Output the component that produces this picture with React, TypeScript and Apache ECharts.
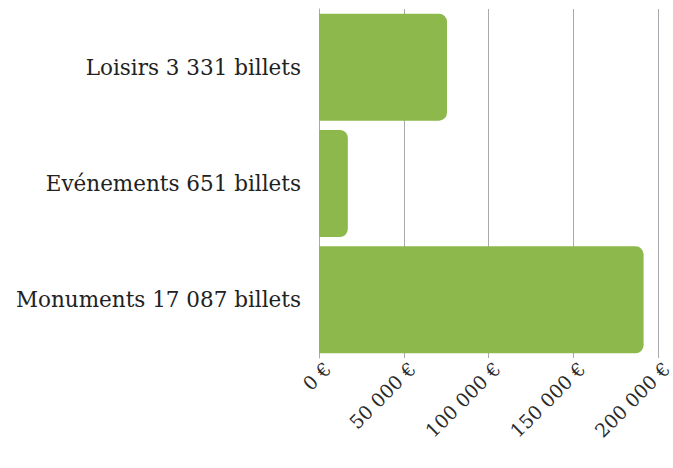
import React, { useEffect, useRef } from "react";
import * as echarts from "echarts";

const categories = ["Loisirs 3 331 billets", "Evénements 651 billets", "Monuments 17 087 billets"];
const values = [75500, 17000, 191500];
const xMax = 200000;
const xInterval = 50000;

const FONT = "DejaVu Serif";

function fmt(v: number): string {
  const s = Math.round(v).toString().replace(/\B(?=(\d{3})+(?!\d))/g, " ");
  return s + " €";
}

export default function App() {
  const ref = useRef<HTMLDivElement>(null);
  useEffect(() => {
    if (!ref.current) return;
    const chart = echarts.init(ref.current, null, { renderer: "svg" });
    chart.setOption({
      animation: false,
      backgroundColor: "#ffffff",
      grid: { left: 319, right: 15, top: 9, bottom: 110, containLabel: false, outerBoundsMode: "none" },
      xAxis: {
        type: "value",
        min: 0,
        max: xMax,
        interval: xInterval,
        axisLine: { show: false },
        axisTick: { show: false },
        splitLine: { show: true, lineStyle: { color: "#a9a9b0", width: 1 } },
        axisLabel: {
          rotate: 45,
          margin: 16,
          padding: [0, -12, 0, 0],
          fontFamily: FONT,
          fontSize: 19,
          color: "#2a2a2a",
          formatter: (v: number) => fmt(v),
        },
      },
      yAxis: {
        type: "category",
        data: categories,
        inverse: true,
        axisLine: { show: true, lineStyle: { color: "#a9a9b0", width: 1 } },
        axisTick: { show: false },
        axisLabel: {
          margin: 18,
          fontFamily: FONT,
          fontSize: 21.5,
          color: "#222222",
        },
      },
      series: [
        {
          type: "bar",
          data: values,
          barCategoryGap: "8%",
          itemStyle: { color: "#8cb84c", borderRadius: [0, 8, 8, 0] },
        },
      ],
    });
    return () => chart.dispose();
  }, []);
  return <div ref={ref} style={{ position: "fixed", left: 0, top: 0, width: 673, height: 468 }} />;
}
